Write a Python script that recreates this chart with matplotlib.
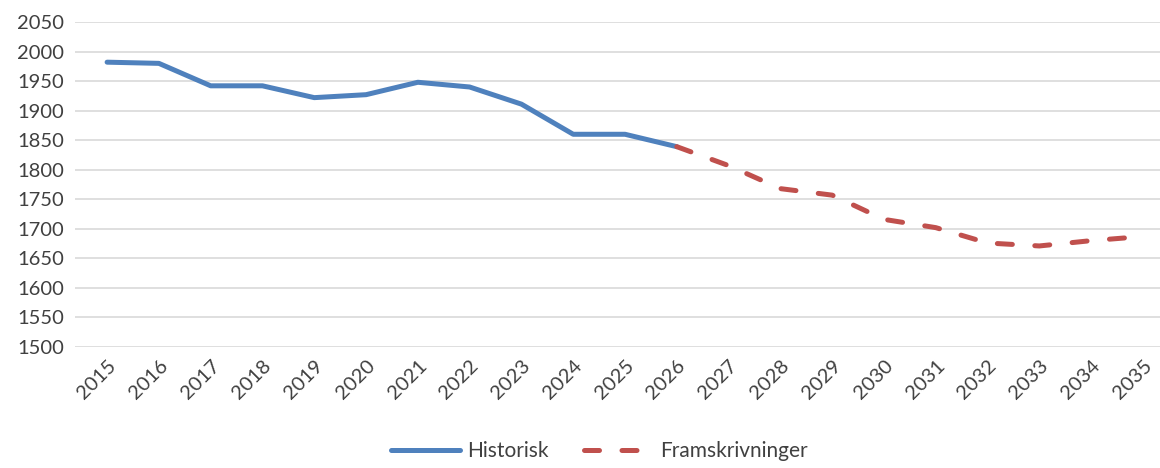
from matplotlib import pyplot as plt
import numpy as np

# Data
years = np.arange(2015, 2036)
hist_years = np.arange(2015, 2027)
hist = [1982, 1980, 1942, 1942, 1922, 1927, 1948, 1940, 1911, 1860, 1860, 1839]
proj_years = np.arange(2026, 2036)
proj = [1839, 1807, 1768, 1757, 1716, 1702, 1676, 1671, 1680, 1687]

plt.rcParams['font.family'] = ['Lato', 'DejaVu Sans']

fig = plt.figure(figsize=(11.6, 4.68), dpi=100)
ax = fig.add_axes([75/1160, (468-347)/468, 1 - 75/1160, (347-22)/468])

ax.plot(hist_years, hist, color='#4F81BD', lw=3.6, solid_capstyle='round',
        label='Historisk', zorder=3)
ax.plot(proj_years, proj, color='#C0504D', lw=3.6, ls=(0, (3, 4.5)),
        dash_capstyle='round', label='Framskrivninger', zorder=3)

ax.set_xlim(2014.38, 2035.33)
ax.set_ylim(1500, 2050)
ax.set_yticks(np.arange(1500, 2051, 50))
ax.set_xticks(years)
ax.set_xticklabels([str(y) for y in years], rotation=45, ha='right',
                   rotation_mode='anchor')
ax.tick_params(length=0, labelsize=14.5, labelcolor='#404040')
ax.tick_params(axis='x', pad=7)
ax.tick_params(axis='y', pad=8)
ax.grid(axis='y', color='#D9D9D9', lw=1.2)
ax.set_axisbelow(True)
for s in ax.spines.values():
    s.set_visible(False)

leg = fig.legend(loc='lower center', bbox_to_anchor=(0.517, -0.025), ncol=2,
                 frameon=False, fontsize=15, handlelength=3.3,
                 columnspacing=1.7, handletextpad=0.35)
for t in leg.get_texts():
    t.set_color('#404040')

fig.savefig('out.png', dpi=100)
